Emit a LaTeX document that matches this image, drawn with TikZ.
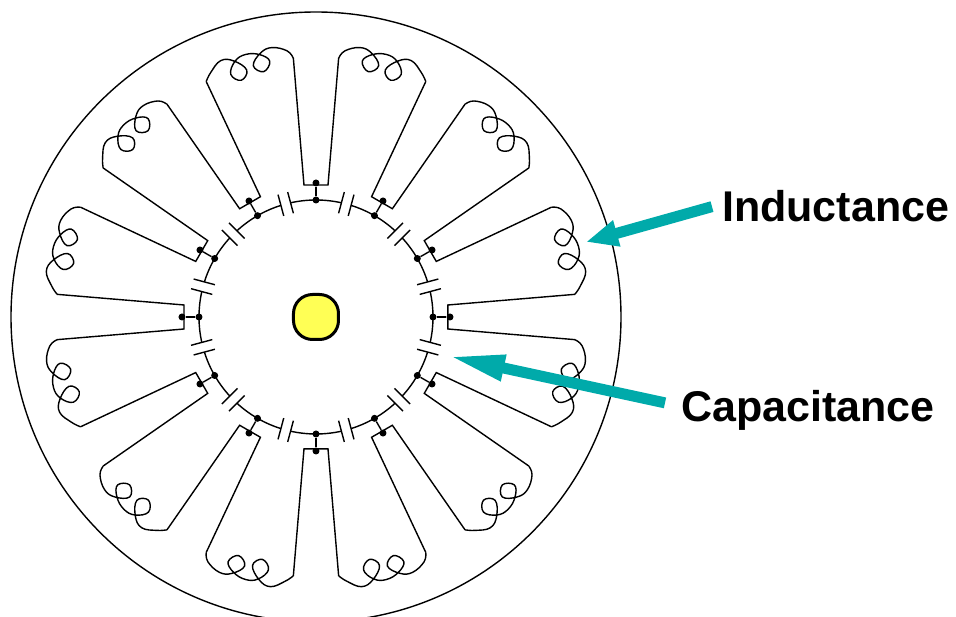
\documentclass[tikz,border=0pt]{standalone}
\usepackage{fontspec}
\setmainfont{Liberation Sans}
\usetikzlibrary{arrows.meta}
\definecolor{arrowteal}{HTML}{00AAAA}
\definecolor{shaftyellow}{HTML}{FFFF55}
\tikzset{
  wire/.style={black, line width=1.4pt},
  dotnode/.style={circle, fill=black, inner sep=0pt, minimum size=7pt},
  bigtext/.style={inner sep=0pt, font=\bfseries\fontsize{43}{50}\selectfont},
  callout/.style={arrowteal, line width=11pt}
}
\newcommand{\coilpath}{plot [smooth, tension=0.7] coordinates {(256,45) (264.5,41) (271.6,27.4) (269.5,15) (259,4.5) (250.5,13) (259,21.5) (268,13.5) (271.8,0) (268,-12) (256.4,-19.5) (248,-11) (256.4,-3) (268.5,-13) (272.3,-25.7) (263.5,-38.3) (256,-45)}}
\begin{document}
\begin{tikzpicture}[x=1pt, y=1pt]
    \clip (-316,317) rectangle (640,-300);

    % Outer circle and shaft
    \draw[wire] (0,0) circle (305);
    \node[draw, line width=3pt, fill=shaftyellow, rounded corners=19pt, minimum size=45pt, inner sep=0pt] (shaft) at (0,0) {};

    % Stubs, slot walls, ring and capacitors
    \foreach \a in {0,30,...,330} {
        \node[dotnode] (ring\a) at (\a:117) {};
        \node[dotnode] (stub\a) at (\a:134) {};
        \coordinate (barup\a) at (\a+5.2:132.5);
        \coordinate (bardn\a) at (\a-5.2:132.5);
        \coordinate (wallup\a) at (\a+5:260);
        \coordinate (walldn\a) at (\a-5:260);
        \draw[wire] (ring\a) -- (stub\a);
        \draw[wire] (walldn\a) -- (bardn\a) -- (barup\a) -- (wallup\a);
        \draw[wire] (ring\a.center) arc[start angle=\a, end angle=\a+12.6, radius=117];
        \draw[wire] (\a+17.4:117) arc[start angle=\a+17.4, end angle=\a+30, radius=117];
        \begin{scope}[rotate=\a+15]
            \draw[wire] (106,5) -- (128,5);
            \draw[wire] (106,-5) -- (128,-5);
        \end{scope}
    }

    % Coils
    \foreach \c/\flip in {15/1,45/1,75/1,-15/1,-45/1,-75/1,105/-1,135/-1,165/-1,195/-1,225/-1,255/-1} {
        \begin{scope}[rotate=\c, yscale=\flip]
            \draw[wire] \coilpath;
        \end{scope}
    }

    % Labels and arrows
    \node[bigtext, anchor=base west] (inductance) at (406,95) {Inductance};
    \node[bigtext, anchor=base west] (capacitance) at (365,-105) {Capacitance};
    \coordinate (indtip) at (270,75);
    \coordinate (captip) at (132,-39);
    \draw[callout, -{Triangle[length=32pt, width=25pt]}] ([xshift=-10pt]inductance.west) -- (indtip);
    \draw[callout, -{Triangle[length=57pt, width=24pt]}] ([shift={(-16pt,8pt)}]capacitance.west) -- (captip);
\end{tikzpicture}
\end{document}
